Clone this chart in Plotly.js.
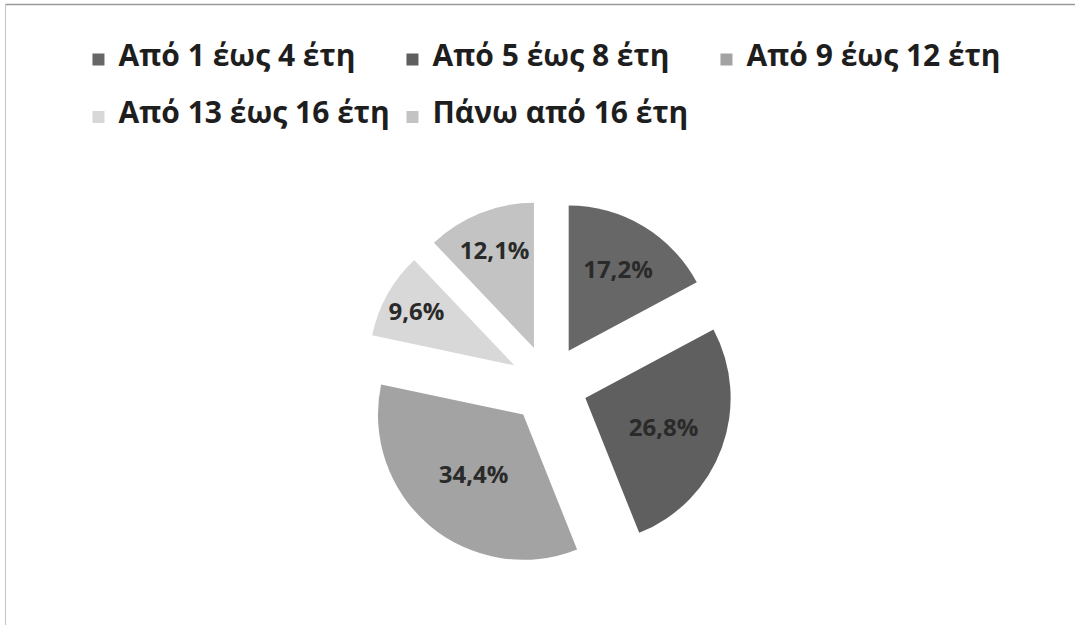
<!DOCTYPE html>
<html>
<head>
<meta charset="utf-8">
<script src="https://cdn.plot.ly/plotly-3.0.1.min.js"></script>
<style>
  html, body { margin: 0; padding: 0; background: #fff; }
  #chart { width: 1075px; height: 625px; }
</style>
</head>
<body>
<div id="chart"></div>
<script>
// Years of service groups and their shares (%)
const categories = ['Από 1 έως 4 έτη', 'Από 5 έως 8 έτη', 'Από 9 έως 12 έτη', 'Από 13 έως 16 έτη', 'Πάνω από 16 έτη'];
const shares = [17.2, 26.8, 34.4, 9.6, 12.1];
const sliceColors = ['#676767', '#5f5f5f', '#a3a3a3', '#d8d8d8', '#c3c3c3'];

// Legend rows are spaced by the legend font size; the visible label size is set per entry
// and lifted so it sits level with its colour square.
const legendLabels = categories.map(c => '<span style="font-size:30px;baseline-shift:10px">' + c + '</span>');

const trace = {
  type: 'pie',
  labels: legendLabels,
  values: shares,
  sort: false,
  direction: 'clockwise',
  rotation: 0,
  pull: categories.map(() => 0.27),
  marker: { colors: sliceColors, line: { width: 0 } },
  textinfo: 'text',
  texttemplate: '%{value:.1f}%',
  textposition: 'inside',
  insidetextorientation: 'horizontal',
  insidetextfont: { family: '"Open Sans", sans-serif', size: 24, weight: 'bold', color: '#2a2a2a' },
  hoverinfo: 'label+percent'
};

const layout = {
  width: 1075,
  height: 625,
  paper_bgcolor: '#ffffff',
  separators: ',.',
  margin: { l: 42, r: 20, t: 200, b: 56 },
  showlegend: true,
  legend: {
    orientation: 'h',
    x: 0.036, xanchor: 'left',
    y: 1.4725, yanchor: 'top',
    entrywidth: 269,
    entrywidthmode: 'pixels',
    itemwidth: 30,
    tracegroupgap: 0,
    font: { family: '"Open Sans", sans-serif', size: 42, weight: 'bold', color: '#1e1e1e' }
  },
  shapes: [
    { type: 'line', xref: 'paper', yref: 'paper', x0: -0.036, x1: 1.02, y0: 1.530, y1: 1.530,
      line: { color: '#9a9a9a', width: 1.5 } },
    { type: 'line', xref: 'paper', yref: 'paper', x0: -0.036, x1: -0.036, y0: -0.16, y1: 1.530,
      line: { color: '#c4c4c4', width: 1 } }
  ]
};

Plotly.newPlot('chart', [trace], layout, { displayModeBar: false, staticPlot: true });
</script>
</body>
</html>
